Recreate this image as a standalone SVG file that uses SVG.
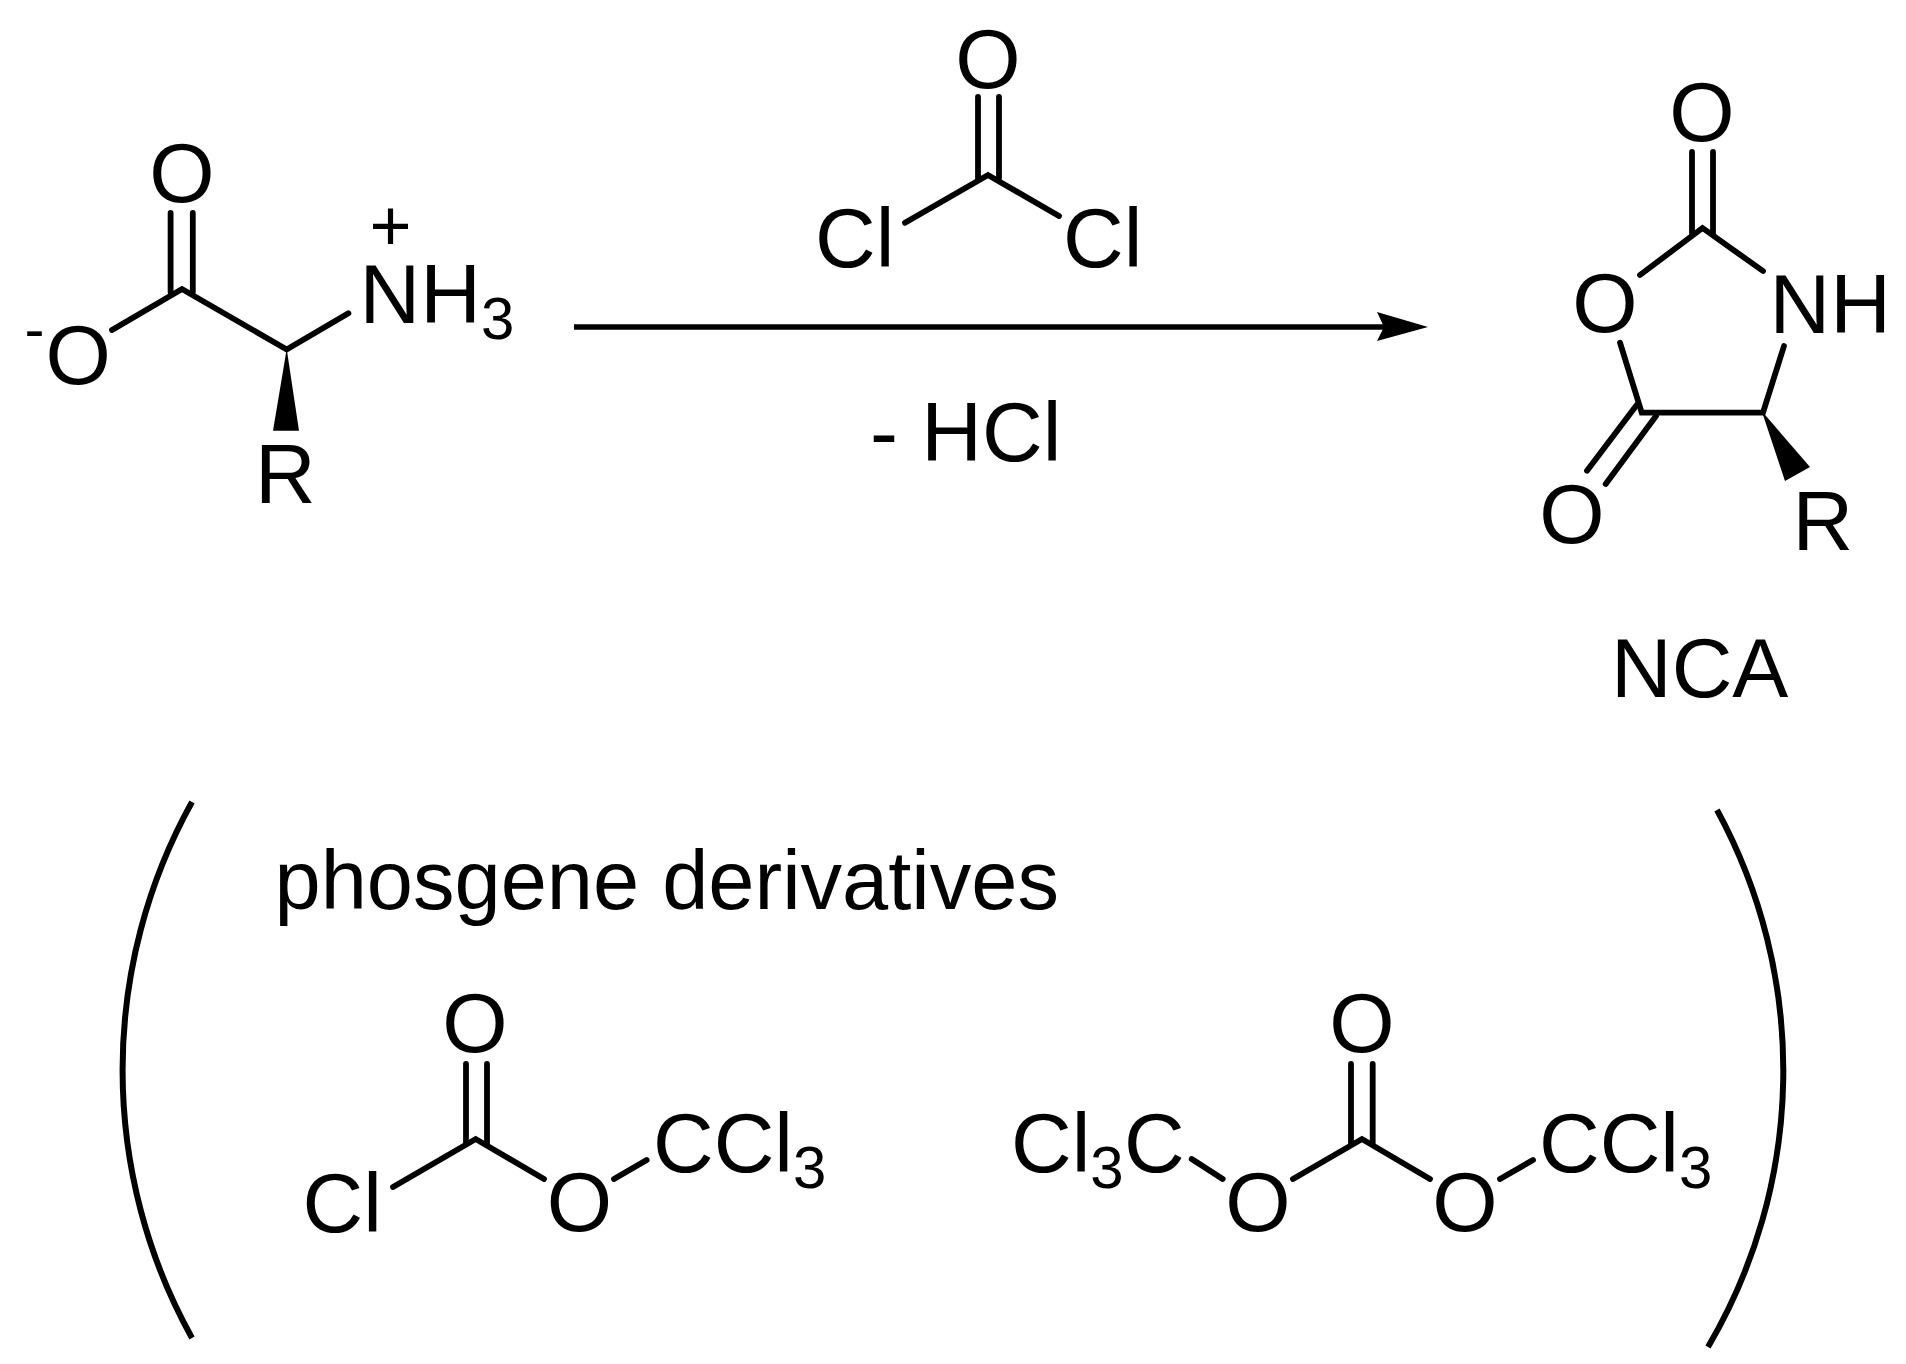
<svg xmlns="http://www.w3.org/2000/svg" width="1906" height="1364" viewBox="0 0 1906 1364">
<style>
text{font-family:"Liberation Sans",Arial,sans-serif;font-size:84px;fill:#000}
.s{font-size:60px}
.m{text-anchor:middle}
.b{fill:none;stroke:#000;stroke-width:5.8;stroke-linecap:round;stroke-linejoin:miter}
.p{fill:none;stroke:#000;stroke-width:6}
.w{fill:#000;stroke:none}
</style>
<defs>
<marker id="head" markerUnits="userSpaceOnUse" markerWidth="52" markerHeight="30" refX="7" refY="15" orient="auto">
<path d="M0 0L51 15L0 29L7 15Z" fill="#000"/>
</marker>
</defs>
<rect width="1906" height="1364" fill="#fff"/>
<g id="connectors">
<g id="bonds-amino-acid">
<path class="b" d="M170.6 213V292M192.8 213V292"/>
<path class="b" d="M112 330L182 289L286.7 349.5L348.4 313.3"/>
<path class="w" d="M286.7 349L299 430.7H273Z"/>
</g>
<g id="bonds-phosgene">
<path class="b" d="M978 97V178M999 97V178"/>
<path class="b" d="M905 222.7L988 175L1059 216"/>
</g>
<g id="bonds-nca">
<path class="b" d="M1692 152V233M1713 152V233"/>
<path class="b" d="M1640 275L1702.5 228L1763 271"/>
<path class="b" d="M1620 342.7L1641.7 412.7H1763L1784 346"/>
<path class="b" d="M1636.7 405L1587 470.7M1656 416L1605.7 484"/>
<path class="w" d="M1761.7 411L1810 467L1785 481Z"/>
</g>
<g id="bonds-diphosgene">
<path class="b" d="M466 1064V1143M487 1064V1143"/>
<path class="b" d="M393 1187L475.7 1139L544 1179"/>
<path class="b" d="M614 1179L646.7 1160"/>
</g>
<g id="bonds-triphosgene">
<path class="b" d="M1191.7 1159L1222.7 1179"/>
<path class="b" d="M1351 1064V1143M1372.7 1064V1143"/>
<path class="b" d="M1293 1179L1362 1139L1430 1179"/>
<path class="b" d="M1500 1179L1533 1160"/>
</g>
<path id="reaction-arrow" d="M574 327H1384" fill="none" stroke="#000" stroke-width="5.5" marker-end="url(#head)"/>
<path id="paren-left" class="p" d="M192 802A552 552 0 0 0 192 1338"/>
<path id="paren-right" class="p" d="M1717 810A545 545 0 0 1 1708 1347"/>
</g>
<g id="amino-acid">
<text x="182" y="202" class="m">O</text>
<text x="24.4" y="349" class="s">-</text>
<text x="45.5" y="384">O</text>
<text x="369.5" y="249.5" style="font-size:72px">+</text>
<text x="359.6" y="322.7">NH</text>
<text x="481" y="339" class="s">3</text>
<text x="255" y="503">R</text>
</g>
<g id="phosgene">
<text x="988" y="88" class="m">O</text>
<text x="815" y="267">Cl</text>
<text x="1063" y="267">Cl</text>
</g>
<g id="minus-hcl"><text x="870" y="460.7" xml:space="preserve">- HCl</text></g>
<g id="nca">
<text x="1702" y="141" class="m">O</text>
<text x="1605" y="332" class="m">O</text>
<text x="1769.6" y="333">NH</text>
<text x="1572" y="543" class="m">O</text>
<text x="1792.4" y="550">R</text>
</g>
<g id="nca-label"><text x="1611" y="697">NCA</text></g>
<g id="phosgene-derivatives-label"><text x="274.5" y="909" style="font-size:83px">phosgene derivatives</text></g>
<g id="diphosgene">
<text x="475" y="1052" class="m">O</text>
<text x="302.5" y="1231.7">Cl</text>
<text x="579.5" y="1231" class="m">O</text>
<text x="653" y="1172">CCl</text>
<text x="793" y="1188" class="s">3</text>
</g>
<g id="triphosgene">
<text x="1011" y="1172">Cl</text>
<text x="1090.3" y="1188" class="s">3</text>
<text x="1124" y="1172">C</text>
<text x="1258" y="1231" class="m">O</text>
<text x="1362" y="1052" class="m">O</text>
<text x="1465" y="1231" class="m">O</text>
<text x="1539" y="1172">CCl</text>
<text x="1679" y="1188" class="s">3</text>
</g>
</svg>
